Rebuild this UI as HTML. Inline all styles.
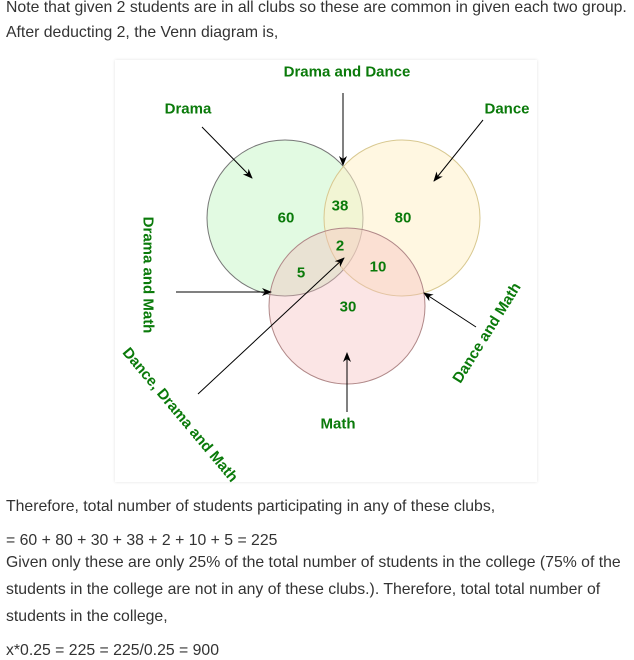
<!DOCTYPE html>
<html><head><meta charset="utf-8"><style>
body{margin:0;width:634px;height:658px;background:#fff;position:relative;overflow:hidden;font-family:"Liberation Sans",sans-serif;color:#333}
.t{position:absolute;left:6px;font-size:15.8px;white-space:nowrap;line-height:18px}
.box{position:absolute;left:115px;top:60px;width:422px;height:422px;background:#fff;box-shadow:0 0 3px rgba(0,0,0,.12)}
svg{position:absolute;left:0;top:0}
svg text{font-family:"Liberation Sans",sans-serif;font-weight:bold;fill:#0a7a0a;font-size:15px;text-anchor:middle;dominant-baseline:central}
</style></head><body>
<div class="t" style="top:-1px">Note that given 2 students are in all clubs so these are common in given each two group.</div>
<div class="t" style="top:24px">After deducting 2, the Venn diagram is,</div>
<div class="box"></div>
<svg width="634" height="658">
<defs><marker id="a" markerWidth="10" markerHeight="10" refX="9" refY="5" orient="auto" markerUnits="userSpaceOnUse"><path d="M0,1 L10,5 L0,9 L3,5z" fill="#000"/></marker></defs>
<circle cx="285" cy="218" r="78" fill="rgba(190,245,190,0.45)" stroke="#777" stroke-width="1"/>
<circle cx="402" cy="218" r="78" fill="rgba(255,240,200,0.55)" stroke="#d8c890" stroke-width="1"/>
<circle cx="347" cy="306" r="78" fill="rgba(245,190,190,0.4)" stroke="#b08888" stroke-width="1"/>
<g stroke="#000" stroke-width="1" marker-end="url(#a)">
<line x1="202" y1="127" x2="252" y2="178"/>
<line x1="343" y1="93" x2="343" y2="165"/>
<line x1="483" y1="120" x2="434" y2="181"/>
<line x1="176" y1="292" x2="271" y2="292"/>
<line x1="476" y1="327" x2="424" y2="293"/>
<line x1="198" y1="394" x2="344" y2="258"/>
<line x1="347" y1="412" x2="347" y2="353"/>
</g>
<text x="188" y="109">Drama</text>
<text x="347" y="72">Drama and Dance</text>
<text x="507" y="109">Dance</text>
<text x="338" y="424">Math</text>
<text transform="translate(148,275) rotate(90)">Drama and Math</text>
<text transform="translate(487,333) rotate(-58)">Dance and Math</text>
<text transform="translate(180,415) rotate(50)">Dance, Drama and Math</text>
<text x="286" y="218">60</text>
<text x="340" y="206">38</text>
<text x="403" y="218">80</text>
<text x="340" y="246">2</text>
<text x="301" y="273">5</text>
<text x="378" y="267">10</text>
<text x="348" y="307">30</text>
</svg>
<div class="t" style="top:498px">Therefore, total number of students participating in any of these clubs,</div>
<div class="t" style="top:532px">= 60 + 80 + 30 + 38 + 2 + 10 + 5 = 225</div>
<div class="t" style="top:554px">Given only these are only 25% of the total number of students in the college (75% of the</div>
<div class="t" style="top:581px">students in the college are not in any of these clubs.). Therefore, total total number of</div>
<div class="t" style="top:608px">students in the college,</div>
<div class="t" style="top:642px">x*0.25 = 225 = 225/0.25 = 900</div>
</body></html>
